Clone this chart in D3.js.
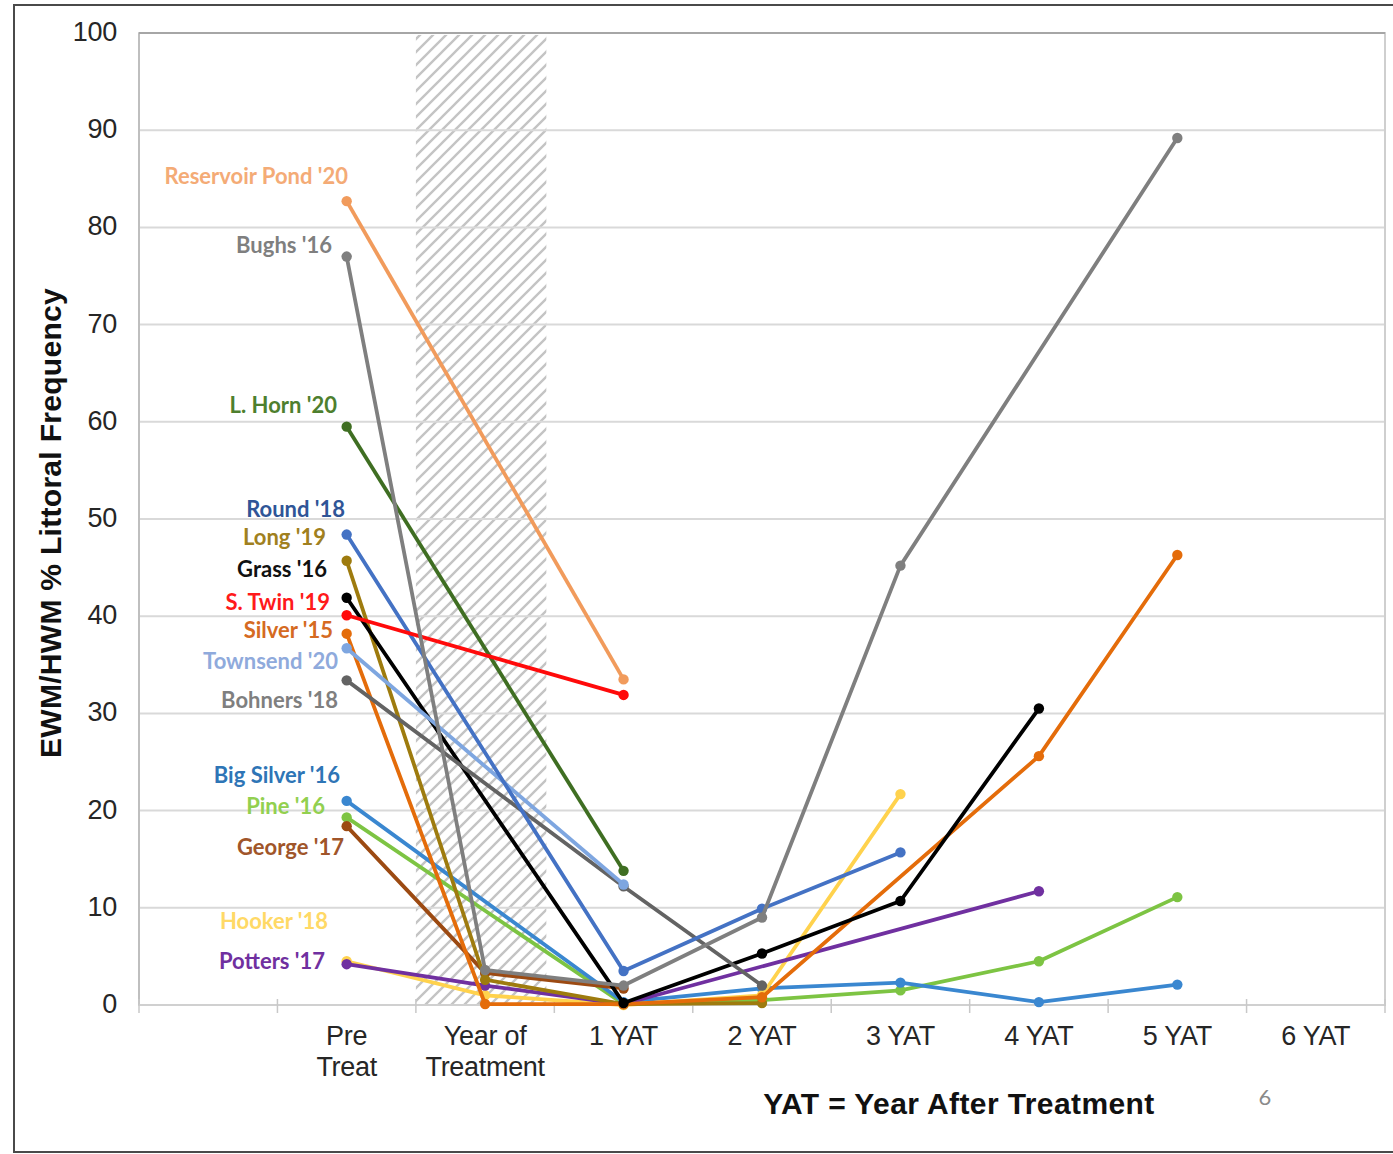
<!DOCTYPE html>
<html><head><meta charset="utf-8">
<script src="https://cdn.jsdelivr.net/npm/d3@7"></script>
<style>html,body{margin:0;padding:0;background:#fff;}</style>
</head><body>
<svg id="chart" width="1393" height="1154"></svg>
<script>
// ---- data ----
const categories = ["", "Pre Treat", "Year of Treatment", "1 YAT", "2 YAT", "3 YAT", "4 YAT", "5 YAT", "6 YAT"];
const yTicks = [0, 10, 20, 30, 40, 50, 60, 70, 80, 90, 100];
const seriesNames = ["Reservoir Pond '20", "Bughs '16", "L. Horn '20", "Round '18", "Long '19", "Grass '16", "S. Twin '19", "Silver '15", "Townsend '20", "Bohners '18", "Big Silver '16", "Pine '16", "George '17", "Hooker '18", "Potters '17"];
// values per category (Pre, YoT, 1..6 YAT); null = no data
const reservoir = [82.7, null, 33.5, null, null, null, null, null];
const bughs     = [77.0, 3.6, 2.0, 9.0, 45.2, null, 89.2, null];
const lhorn     = [59.5, null, 13.8, null, null, null, null, null];
const round     = [48.4, null, 3.5, 9.9, 15.7, null, null, null];
const long      = [45.7, 2.6, 0.1, 0.2, null, null, null, null];
const grass     = [41.9, null, 0.2, 5.3, 10.7, 30.5, null, null];
const stwin     = [40.1, null, 31.9, null, null, null, null, null];
const silver    = [38.2, 0.1, 0.1, 0.8, null, 25.6, 46.3, null];
const townsend  = [36.7, null, 12.4, null, null, null, null, null];
const bohners   = [33.4, null, 12.2, 2.0, null, null, null, null];
const bigsilver = [21.0, null, 0.3, 1.7, 2.3, 0.3, 2.1, null];
const pine      = [19.3, null, 0.1, 0.5, 1.5, 4.5, 11.1, null];
const george    = [18.4, 3.3, 1.7, null, null, null, null, null];
const hooker    = [4.5, 1.0, 0.0, 1.0, 21.7, null, null, null];
const potters   = [4.2, 2.0, 0.1, null, null, 11.7, null, null];
// label anchor values (where the name sits on the y scale)
const labelValues = [85.2, 78.1, 61.6, 50.9, 48.0, 44.8, 41.4, 38.5, 35.3, 31.3, 23.6, 20.4, 16.2, 8.5, 4.4];

// ---- styles ----
const lineColors = ["#F19B5C", "#7F7F7F", "#3F6E22", "#4472C4", "#9E7B0E", "#000000", "#FF0A0A", "#E46C0A", "#7EA6E0", "#636363", "#3A87D0", "#7DC443", "#9C4A12", "#FFD24D", "#7030A0"];
const labelColors = ["#F4AB76", "#7F7F7F", "#4E7F2E", "#2F5597", "#A08020", "#111111", "#FF1A1A", "#D56A22", "#8FAADC", "#7F7F7F", "#2E75B6", "#92D050", "#A0552A", "#FFD966", "#7030A0"];
const labelRight = [348, 332, 337, 345, 326, 327, 330, 333, 338, 338, 340, 325, 344, 328, 325];
const allSeries = [reservoir, bughs, lhorn, round, long, grass, stwin, silver, townsend, bohners, bigsilver, pine, george, hooker, potters];
const drawOrder = [11, 10, 13, 14, 12, 4, 7, 5, 9, 8, 3, 2, 6, 1, 0];

const svg = d3.select("#chart");
const L = 139, R = 1385, T = 33, B = 1005;

// outer frame
svg.append("rect").attr("x", 14).attr("y", 5).attr("width", 1400).attr("height", 1147)
  .attr("fill", "none").attr("stroke", "#4a4a4a").attr("stroke-width", 2);

const x = d3.scaleBand().domain(categories.map((c, i) => i)).range([L, R]);
const y = d3.scaleLinear().domain([0, 100]).range([B, T]);
const cx = i => x(i) + x.bandwidth() / 2;

// hatch pattern
const defs = svg.append("defs");
const pat = defs.append("pattern").attr("id", "hatch").attr("patternUnits", "userSpaceOnUse")
  .attr("width", 13).attr("height", 13);
pat.append("path").attr("d", "M-2,15 L15,-2 M-2,2 L2,-2 M11,15 L15,11")
  .attr("stroke", "#C4C4C4").attr("stroke-width", 2.4);
svg.append("rect").attr("x", x(2)).attr("y", y(99.8)).attr("width", x.bandwidth() - 8)
  .attr("height", y(0) - y(99.8)).attr("fill", "url(#hatch)");

// gridlines
svg.append("g").selectAll("line").data(yTicks.filter(t => t > 0 && t < 100)).join("line")
  .attr("x1", L).attr("x2", R).attr("y1", d => y(d)).attr("y2", d => y(d))
  .attr("stroke", "#D9D9D9").attr("stroke-width", 2);
// plot border
svg.append("rect").attr("x", L).attr("y", T).attr("width", R - L).attr("height", B - T)
  .attr("fill", "none").attr("stroke", "#CFCFCF").attr("stroke-width", 2);
svg.append("line").attr("x1", L).attr("x2", L).attr("y1", T).attr("y2", B).attr("stroke", "#BFBFBF").attr("stroke-width", 2);
svg.append("line").attr("x1", L).attr("x2", R).attr("y1", T).attr("y2", T).attr("stroke", "#A6A6A6").attr("stroke-width", 2);

// x axis
const xAxis = svg.append("g").attr("transform", `translate(0,${B})`);
xAxis.append("line").attr("x1", L).attr("x2", R).attr("stroke", "#D0D0D0").attr("stroke-width", 2);
xAxis.selectAll(".tk").data(categories.map((c, i) => i)).join("line")
  .attr("x1", d => x(d)).attr("x2", d => x(d)).attr("y1", -6).attr("y2", 8)
  .attr("stroke", "#C8C8C8").attr("stroke-width", 1.5);
xAxis.append("line").attr("x1", R).attr("x2", R).attr("y1", -6).attr("y2", 8).attr("stroke", "#C8C8C8").attr("stroke-width", 1.5);
const xl = svg.append("g").attr("font-family", "Liberation Sans, Arial, sans-serif").attr("font-size", 27).attr("fill", "#262626").attr("text-anchor", "middle");
categories.forEach((c, i) => {
  if (!c) return;
  let lines;
  if (c === "Pre Treat") lines = ["Pre", "Treat"];
  else if (c === "Year of Treatment") lines = ["Year of", "Treatment"];
  else lines = [c];
  lines.forEach((ln, k) => {
    xl.append("text").attr("x", cx(i)).attr("y", 1045 + k * 31).attr("letter-spacing", -0.3).text(ln);
  });
});

// y axis labels
svg.append("g").selectAll("text").data(yTicks).join("text")
  .attr("x", 117).attr("y", d => y(d) + 8).attr("text-anchor", "end")
  .attr("font-family", "Liberation Sans, Arial, sans-serif").attr("font-size", 27).attr("fill", "#262626")
  .attr("letter-spacing", -0.3).text(d => d);

// titles
svg.append("text").attr("transform", "translate(61,523) rotate(-90)").attr("text-anchor", "middle")
  .attr("font-family", "Liberation Sans, Arial, sans-serif").attr("font-weight", "bold").attr("font-size", 30)
  .attr("fill", "#111").attr("letter-spacing", 0.3).text("EWM/HWM % Littoral Frequency");
svg.append("text").attr("x", 959).attr("y", 1114).attr("text-anchor", "middle")
  .attr("font-family", "Liberation Sans, Arial, sans-serif").attr("font-weight", "bold").attr("font-size", 30)
  .attr("fill", "#111").attr("letter-spacing", 0.4).text("YAT = Year After Treatment");
svg.append("text").attr("x", 1265).attr("y", 1105).attr("text-anchor", "middle")
  .attr("font-family", "Lato, sans-serif").attr("font-size", 22).attr("fill", "#8a8a8a").text("6");

// series
const line = d3.line().x(d => cx(d.i)).y(d => y(d.v));
const gS = svg.append("g");
drawOrder.forEach(si => {
  const pts = allSeries[si].map((v, k) => ({ i: k + 1, v })).filter(d => d.v !== null);
  gS.append("path").datum(pts).attr("d", line).attr("fill", "none")
    .attr("stroke", lineColors[si]).attr("stroke-width", 3.8).attr("stroke-linejoin", "round");
  gS.append("g").selectAll("circle").data(pts).join("circle")
    .attr("cx", d => cx(d.i)).attr("cy", d => y(d.v)).attr("r", 5.2).attr("fill", lineColors[si]);
});

// labels
svg.append("g").selectAll("text").data(seriesNames).join("text")
  .attr("x", (d, i) => labelRight[i]).attr("y", (d, i) => y(labelValues[i]) + 7)
  .attr("text-anchor", "end").attr("font-family", "Lato, sans-serif").attr("font-weight", "bold")
  .attr("font-size", 22).attr("fill", (d, i) => labelColors[i]).text(d => d);
</script>
</body></html>
